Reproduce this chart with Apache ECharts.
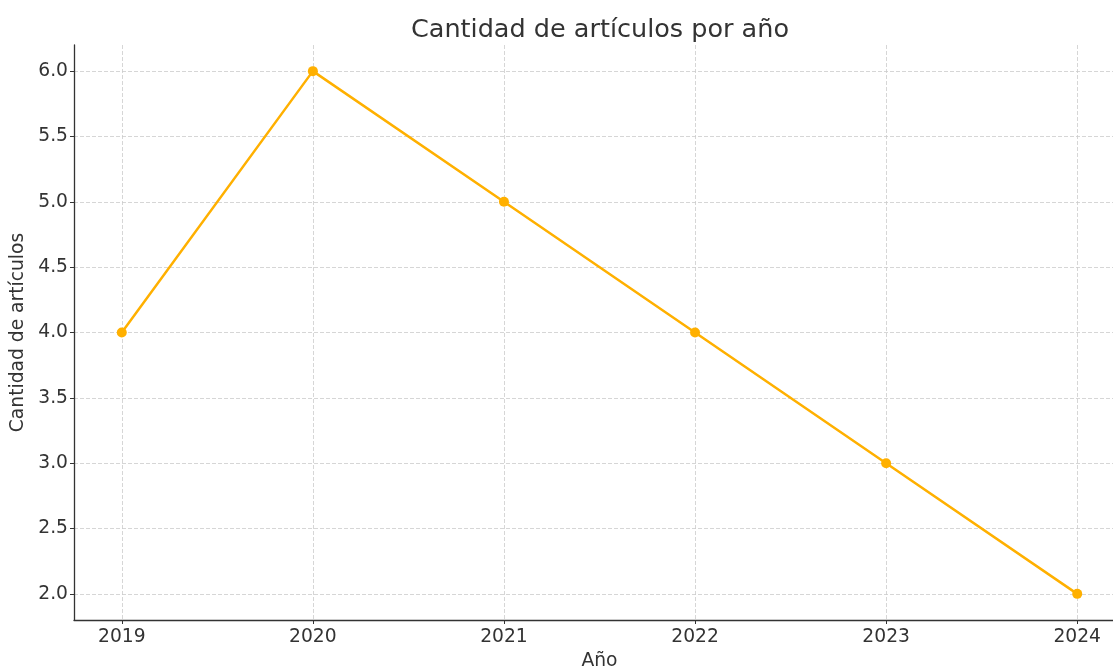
<!DOCTYPE html>
<html>
<head>
<meta charset="utf-8">
<script src="https://cdn.jsdelivr.net/npm/echarts@6/dist/echarts.min.js"></script>
<style>
html, body { margin: 0; padding: 0; background: #fff; }
#chart { width: 1113px; height: 668px; }
</style>
</head>
<body>
<div id="chart"></div>
<script>
const years = [2019, 2020, 2021, 2022, 2023, 2024];
const articles = [4, 6, 5, 4, 3, 2];
const yTicks = [2.0, 2.5, 3.0, 3.5, 4.0, 4.5, 5.0, 5.5, 6.0];

const chart = echarts.init(document.getElementById("chart"));
const font = "DejaVu Sans";
const ink = "#333333";

chart.setOption({
    animation: false,
    title: {
        text: "Cantidad de artículos por año",
        left: 595,
        textAlign: "center",
        top: 12,
        textStyle: { fontFamily: font, fontSize: 25.5, fontWeight: "normal", color: ink }
    },
    grid: { left: 74, right: -12, top: 45, bottom: 48, containLabel: false, outerBoundsMode: "none" },
    xAxis: {
        type: "value",
        min: 2018.75,
        max: 2024.25,
        name: "Año",
        nameLocation: "middle",
        nameGap: 31,
        nameTextStyle: { fontFamily: font, fontSize: 18.7, color: ink },
        axisLine: { show: true, onZero: false, lineStyle: { color: ink, width: 1.3 } },
        axisTick: { show: true, length: 4, customValues: years, lineStyle: { color: ink } },
        axisLabel: {
            customValues: years,
            fontFamily: font, fontSize: 18.7, color: ink, margin: 8,
            formatter: v => String(v)
        },
        splitLine: { show: true, lineStyle: { color: "#cccccc", type: [4, 2], width: 0.8 } }
    },
    yAxis: {
        type: "value",
        min: 1.8,
        max: 6.2,
        name: "Cantidad de artículos",
        nameLocation: "middle",
        nameGap: 41,
        nameTextStyle: { fontFamily: font, fontSize: 18.7, color: ink },
        axisLine: { show: true, onZero: false, lineStyle: { color: ink, width: 1.3 } },
        axisTick: { show: true, length: 4, customValues: yTicks, lineStyle: { color: ink } },
        axisLabel: {
            customValues: yTicks,
            fontFamily: font, fontSize: 18.7, color: ink, margin: 6,
            formatter: v => v.toFixed(1)
        },
        splitLine: { show: true, lineStyle: { color: "#cccccc", type: [4, 2], width: 0.8 } }
    },
    series: [{
        type: "line",
        data: years.map((y, i) => [y, articles[i]]),
        symbol: "circle",
        symbolSize: 10,
        itemStyle: { color: "#FFB000" },
        lineStyle: { color: "#FFB000", width: 2.5 }
    }]
});
</script>
</body>
</html>
